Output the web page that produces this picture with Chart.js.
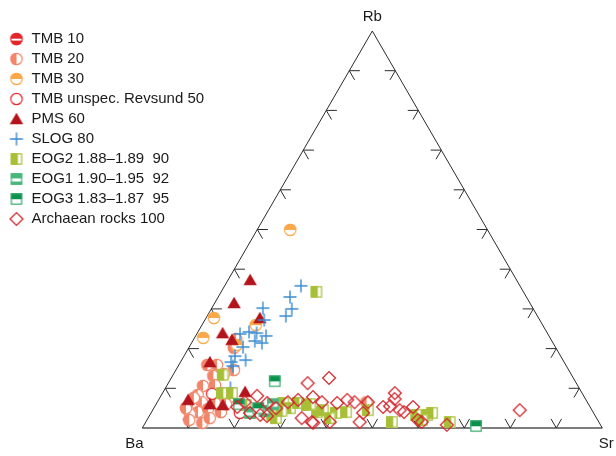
<!DOCTYPE html>
<html>
<head>
<meta charset="utf-8">
<script src="https://cdn.jsdelivr.net/npm/chart.js@4.4.1/dist/chart.umd.min.js"></script>
<style>
  html, body { margin: 0; padding: 0; background: #fff; }
  #wrap { width: 616px; height: 456px; }
</style>
</head>
<body>
<div id="wrap"><canvas id="ternary" width="616" height="456"></canvas></div>
<script>
// compositions, in % (Ba = 100 - Sr - Rb)
const cornerNames = ['Ba', 'Sr', 'Rb'];
const tickSteps = [10, 20, 30, 40, 50, 60, 70, 80, 90];

const seriesNames = ['TMB 10', 'TMB 20', 'TMB 30', 'TMB unspec. Revsund 50', 'PMS 60', 'SLOG 80',
  'EOG2 1.88\u20131.89  90', 'EOG1 1.90\u20131.95  92', 'EOG3 1.83\u20131.87  95', 'Archaean rocks 100'];

const tmb10Sr = [8.6, 12.7];
const tmb10Rb = [5.8, 7.6];
const tmb20Sr = [9.2, 9.8, 8.3, 12.6, 6.2, 8.9, 7.9, 10.4, 12.9, 7.9, 8.0, 9.7, 10.1, 8.6, 12.4, 15.1, 12.7, 15.2, 7.0, 11.9, 9.2, 15.2, 7.4, 13.4, 11.0, 45.5];
const tmb20Rb = [22.4, 20.2, 15.9, 14.6, 15.9, 13.1, 10.6, 10.8, 8.8, 8.3, 6.0, 6.5, 4.0, 3.5, 1.3, 4.0, 6.3, 7.8, 5.0, 4.8, 2.0, 6.0, 7.6, 2.5, 13.6, 6.5];
const tmb30Sr = [7.2, 1.7, 1.9, 11.7, 10.1];
const tmb30Rb = [49.9, 27.7, 22.7, 25.9, 20.9];
const unspecSr = [19.3, 10.9];
const unspecRb = [3.8, 8.6];
const pmsSr = [4.8, 4.2, 5.5, 6.4, 6.4, 11.7, 14.6, 17.8, 11.7, 8.4];
const pmsRb = [37.3, 31.5, 23.9, 16.6, 7.1, 6.0, 5.8, 9.1, 27.7, 22.2];
const slogSr = [16.6, 15.6, 17.5, 17.1, 11.1, 12.9, 11.1, 12.9, 15.3, 13.5, 15.3, 11.7, 11.1, 11.0, 13.9, 11.9, 14.1, 9.4];
const slogRb = [35.8, 33.0, 30.0, 28.2, 30.2, 27.2, 24.2, 23.9, 23.2, 21.9, 21.4, 20.4, 18.1, 16.6, 17.1, 15.6, 10.1, 23.7];
const eog2Sr = [20.7, 10.8, 12.9, 15.1, 19.6, 26.6, 27.5, 29.6, 30.7, 27.8, 32.9, 36.0, 37.0, 40.2, 39.5, 33.5, 46.8, 53.5, 57.9, 60.3, 61.1, 66.1, 59.8, 42.3, 28.1];
const eog2Rb = [34.3, 13.4, 8.8, 8.8, 5.8, 3.3, 6.3, 5.0, 6.3, 2.5, 5.8, 4.0, 4.5, 3.8, 2.5, 6.0, 4.5, 1.5, 3.3, 3.3, 3.8, 1.5, 2.0, 4.0, 4.3];
const eog1Sr = [24.4, 21.5, 25.4];
const eog1Rb = [4.3, 3.8, 6.0];
const eog3Sr = [22.9, 72.3, 18.0, 22.7];
const eog3Rb = [11.8, 0.5, 6.0, 5.0];
const archSr = [34.3, 30.3, 20.9, 18.0, 24.0, 28.4, 21.5, 24.0, 25.6, 33.4, 36.5, 30.3, 33.2, 35.8, 36.1, 39.2, 40.0, 41.0, 42.9, 46.1, 46.5, 45.8, 49.7, 50.5, 51.2, 53.7, 54.9, 56.2, 58.9, 65.8, 79.8, 60.0, 26.6, 19.0, 51.1];
const archRb = [12.6, 11.3, 8.1, 5.3, 6.3, 6.5, 3.8, 3.3, 3.0, 2.5, 1.3, 7.1, 7.8, 6.5, 1.5, 6.3, 1.5, 7.1, 6.5, 3.8, 1.5, 6.5, 5.3, 8.8, 7.3, 4.5, 4.0, 5.3, 2.0, 0.8, 4.5, 1.5, 5.0, 6.5, 5.5];

// ternary -> cartesian (Ba at 0,0, Sr at 1,0, Rb at 0.5,1)
function toXY(sr, rb) {
  return { x: (sr + rb / 2) / 100, y: rb / 100 };
}
function pairs(srs, rbs) {
  return srs.map((s, i) => toXY(s, rbs[i]));
}

// marker images
function makeMarker(draw) {
  const c = document.createElement('canvas');
  c.width = 16; c.height = 16;
  draw(c.getContext('2d'), 8, 8);
  return c;
}
function circleMarker(col, fill) {
  return makeMarker((g, cx, cy) => {
    const r = 6.3;
    g.beginPath(); g.arc(cx, cy, r, 0, Math.PI * 2);
    g.fillStyle = '#fff'; g.fill();
    g.save();
    g.beginPath(); g.arc(cx, cy, r, 0, Math.PI * 2); g.clip();
    g.fillStyle = col;
    if (fill === 'left') g.fillRect(cx - r, cy - r, r, 2 * r);
    if (fill === 'top') g.fillRect(cx - r, cy - r, 2 * r, r);
    if (fill === 'band') { g.fillRect(cx - r, cy - r, 2 * r, r - 0.3); g.fillRect(cx - r, cy + 1.6, 2 * r, r); }
    g.restore();
    g.beginPath(); g.arc(cx, cy, r - 0.6, 0, Math.PI * 2);
    g.strokeStyle = col; g.lineWidth = 1.2; g.stroke();
  });
}
function squareMarker(col, fill, edge) {
  return makeMarker((g, cx, cy) => {
    const s = 11.5, x0 = cx - s / 2, y0 = cy - s / 2;
    g.fillStyle = '#fff'; g.fillRect(x0, y0, s, s);
    g.fillStyle = col;
    if (fill === 'left') g.fillRect(x0, y0, s * 0.62, s);
    if (fill === 'top') g.fillRect(x0, y0, s, s * 0.52);
    if (fill === 'band') { g.fillRect(x0, y0, s, s * 0.45); g.fillRect(x0, y0 + s * 0.72, s, s * 0.28); }
    g.strokeStyle = edge || col; g.lineWidth = 1.2;
    g.strokeRect(x0 + 0.6, y0 + 0.6, s - 1.2, s - 1.2);
  });
}
const triangleMarker = col => makeMarker((g, cx, cy) => {
  g.beginPath(); g.moveTo(cx, cy - 6.2); g.lineTo(cx + 6.7, cy + 5.3); g.lineTo(cx - 6.7, cy + 5.3); g.closePath();
  g.fillStyle = col; g.fill();
});
const plusMarker = col => makeMarker((g, cx, cy) => {
  g.beginPath(); g.moveTo(cx - 6.5, cy); g.lineTo(cx + 6.5, cy); g.moveTo(cx, cy - 6.5); g.lineTo(cx, cy + 6.5);
  g.strokeStyle = col; g.lineWidth = 1.4; g.stroke();
});
const diamondMarker = col => makeMarker((g, cx, cy) => {
  g.beginPath(); g.moveTo(cx, cy - 6.4); g.lineTo(cx + 6.4, cy); g.lineTo(cx, cy + 6.4); g.lineTo(cx - 6.4, cy); g.closePath();
  g.strokeStyle = col; g.lineWidth = 1.3; g.stroke();
});

const groups = [
  { data: pairs(tmb10Sr, tmb10Rb), marker: circleMarker('#e3262b', 'band') },
  { data: pairs(tmb20Sr, tmb20Rb), marker: circleMarker('#f2866a', 'left') },
  { data: pairs(tmb30Sr, tmb30Rb), marker: circleMarker('#f9a84a', 'top') },
  { data: pairs(unspecSr, unspecRb), marker: circleMarker('#e3262b', 'none') },
  { data: pairs(pmsSr, pmsRb), marker: triangleMarker('#b3141c') },
  { data: pairs(slogSr, slogRb), marker: plusMarker('#3a8bd0') },
  { data: pairs(eog2Sr, eog2Rb), marker: squareMarker('#a6bf36', 'left') },
  { data: pairs(eog1Sr, eog1Rb), marker: squareMarker('#49b77c', 'band') },
  { data: pairs(eog3Sr, eog3Rb), marker: squareMarker('#0a914b', 'top', '#3aa86c') },
  { data: pairs(archSr, archRb), marker: diamondMarker('#d2262d') }
];

// frame and ternary ticks
const frameSides = [toXY(0, 0), toXY(0, 100), toXY(100, 0)];
const frameBase = [toXY(0, 0), toXY(100, 0)];
const d = 2.3;
const tickPts = [];
const gap = { x: null, y: null };
tickSteps.forEach(k => {
  // Ba-Rb side
  tickPts.push(toXY(0, k), toXY(d, k), gap, toXY(0, k), toXY(d, k - d), gap);
  // Sr-Rb side
  tickPts.push(toXY(100 - k, k), toXY(100 - k - d, k), gap, toXY(100 - k, k), toXY(100 - k, k - d), gap);
  // Ba-Sr base
  tickPts.push(toXY(k, 0), toXY(k - d, d), gap, toXY(k, 0), toXY(k, d), gap);
});

// scale ranges so the triangle lands where it sits in the figure
const pad = { left: 4, top: 0, right: 0, bottom: 0 };
const W = 616, H = 456;
const tri = { left: 142.3, right: 602.3, top: 31, base: 428 };
const pxX = tri.right - tri.left;
const xMin = -(tri.left - pad.left) / pxX;
const xMax = xMin + (W - pad.left - pad.right) / pxX;
const pxY = tri.base - tri.top;
const yMin = -(H - pad.bottom - tri.base) / pxY;
const yMax = yMin + (H - pad.top - pad.bottom) / pxY;

const cornerLabels = {
  id: 'cornerLabels',
  afterDraw(chart) {
    const { ctx, scales: { x, y } } = chart;
    const offs = [[-8, 20], [4, 20], [0, -10]];
    const pos = [toXY(0, 0), toXY(100, 0), toXY(0, 100)];
    ctx.save();
    ctx.font = '15px "Liberation Sans", Arial, sans-serif';
    ctx.fillStyle = '#1a1a1a';
    ctx.textAlign = 'center';
    ctx.textBaseline = 'alphabetic';
    cornerNames.forEach((name, i) => {
      ctx.fillText(name, x.getPixelForValue(pos[i].x) + offs[i][0], y.getPixelForValue(pos[i].y) + offs[i][1]);
    });
    ctx.restore();
  }
};

const datasets = [
  { type: 'line', data: frameBase, borderColor: '#7d7d7d', borderWidth: 2, pointRadius: 0, order: 100 },
  { type: 'line', data: frameSides, borderColor: '#2b2b2b', borderWidth: 1, pointRadius: 0, order: 99 },
  { type: 'line', data: tickPts, borderColor: '#2b2b2b', borderWidth: 1, pointRadius: 0, spanGaps: false, order: 98 }
];
groups.forEach((g, i) => {
  datasets.push({
    type: 'scatter',
    label: seriesNames[i],
    data: g.data,
    pointStyle: g.marker,
    pointRadius: 6,
    order: 50 - i
  });
});

new Chart(document.getElementById('ternary'), {
  type: 'scatter',
  data: { datasets },
  options: {
    responsive: false,
    animation: false,
    events: [],
    layout: { padding: pad, autoPadding: false },
    scales: {
      x: { type: 'linear', min: xMin, max: xMax, display: false },
      y: { type: 'linear', min: yMin, max: yMax, display: false }
    },
    plugins: {
      tooltip: { enabled: false },
      legend: {
        position: 'chartArea',
        align: 'start',
        title: { display: true, text: ' ', font: { size: 10 }, padding: { top: 14.5, bottom: 0 } },
        labels: {
          usePointStyle: true,
          pointStyleWidth: 15,
          padding: 5,
          color: '#1a1a1a',
          font: { family: '"Liberation Sans", Arial, sans-serif', size: 15 },
          generateLabels: () => groups.map((g, i) => ({
            text: seriesNames[i],
            pointStyle: g.marker,
            fillStyle: '#000',
            strokeStyle: '#000',
            lineWidth: 0,
            hidden: false,
            fontColor: '#1a1a1a',
            datasetIndex: i + 3
          }))
        }
      }
    }
  },
  plugins: [cornerLabels]
});
</script>
</body>
</html>
